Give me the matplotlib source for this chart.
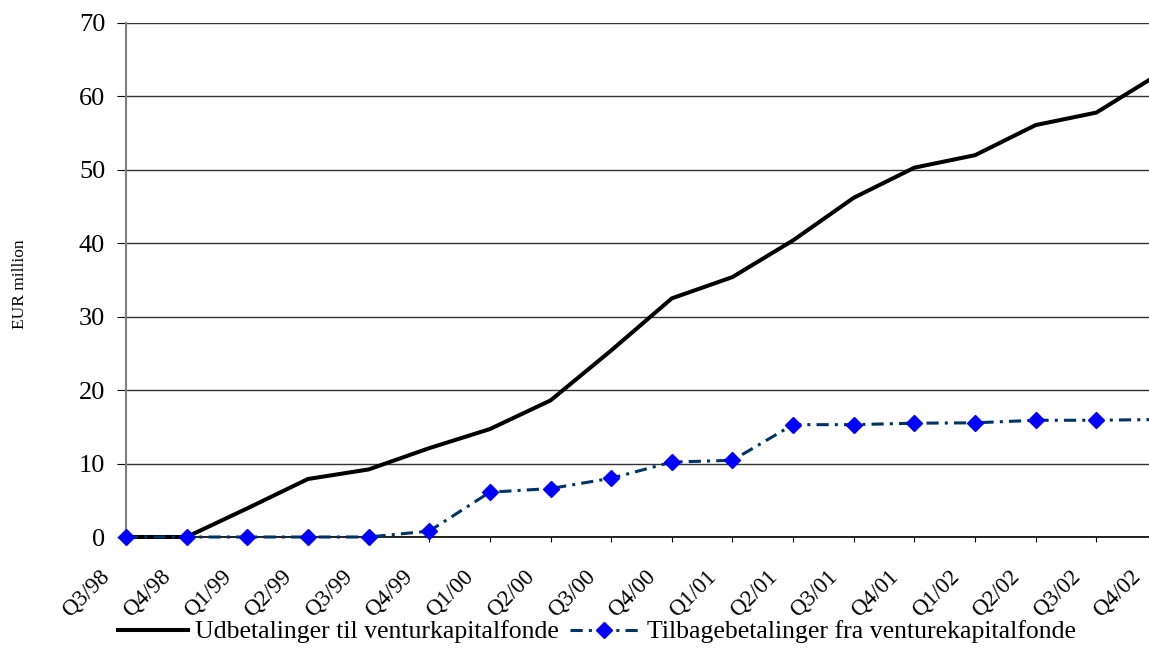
import matplotlib
matplotlib.use("Agg")
import matplotlib.pyplot as plt
from matplotlib.lines import Line2D
from matplotlib.transforms import ScaledTranslation

plt.rcParams['font.family'] = ['Liberation Serif', 'DejaVu Serif']

categories = ['Q3/98', 'Q4/98', 'Q1/99', 'Q2/99', 'Q3/99', 'Q4/99', 'Q1/00', 'Q2/00',
              'Q3/00', 'Q4/00', 'Q1/01', 'Q2/01', 'Q3/01', 'Q4/01', 'Q1/02', 'Q2/02',
              'Q3/02', 'Q4/02']
udbetalinger = [0, 0, 3.9, 7.9, 9.2, 12.1, 14.7, 18.6, 25.4, 32.5, 35.4, 40.4,
                46.2, 50.3, 52.0, 56.1, 57.8, 62.9]
tilbagebetalinger = [0, 0, 0, 0, 0, 0.8, 6.1, 6.6, 8.0, 10.2, 10.45, 15.3,
                     15.3, 15.5, 15.55, 15.9, 15.9, 16.0]
y_ticks = [0, 10, 20, 30, 40, 50, 60, 70]
label_black = 'Udbetalinger til venturkapitalfonde'
label_blue = 'Tilbagebetalinger fra venturekapitalfonde'

W, H = 1149, 671
fig = plt.figure(figsize=(W / 100, H / 100), dpi=100)
left, right, top, bottom = 126, 1157, 23, 537
ax = fig.add_axes([left / W, 1 - bottom / H, (right - left) / W, (bottom - top) / H])

x = list(range(len(categories)))
ax.plot(x, udbetalinger, color='black', lw=2.9, solid_joinstyle='miter', zorder=3,
        clip_on=False)
ax.plot(x, tilbagebetalinger, color='#003366', lw=2.2, dashes=(4, 2, 1, 2),
        marker='D', markersize=8.5, markerfacecolor='#0000FF',
        markeredgecolor='#0000FF', zorder=4, clip_on=False)

ax.set_xlim(0, len(categories) - 1)
ax.set_ylim(0, 70)
ax.set_yticks(y_ticks)
ax.set_xticks(x)
ax.set_xticklabels([])
offset = ScaledTranslation(-27 / 100, -29 / 100, fig.dpi_scale_trans)
for i, cat in zip(x, categories):
    ax.text(i, 0, cat, transform=ax.get_xaxis_transform() + offset,
            rotation=45, rotation_mode='anchor', ha='right', va='top',
            fontsize=16.5, clip_on=False)
ax.tick_params(axis='y', labelsize=19, length=6.5, width=0.8, pad=8.5, color='black')
ax.tick_params(axis='x', length=3.6, width=0.8, color='black')

ax.grid(axis='y', color='#333333', lw=1.0, zorder=1)
ax.set_axisbelow(True)
for s in ['top', 'right']:
    ax.spines[s].set_visible(False)
ax.spines['left'].set_color('#808080')
ax.spines['left'].set_linewidth(1.5)
ax.spines['bottom'].set_color('black')
ax.spines['bottom'].set_linewidth(1.2)
ax.spines['bottom'].set_zorder(2)

fig.text(20 / W, 1 - 284 / H, 'EUR million', rotation=90, ha='center', va='center',
         fontsize=12.5)

handles = [
    Line2D([], [], color='black', lw=2.9),
    Line2D([], [], color='#003366', lw=2.2, dashes=(4, 2, 1, 2), marker='D',
           markersize=8.5, markerfacecolor='#0000FF', markeredgecolor='#0000FF'),
]
fig.legend(handles, [label_black, label_blue], loc='center',
           bbox_to_anchor=(597 / W, 1 - 632 / H), ncol=2, frameon=False,
           fontsize=18.5, handlelength=2.7, handletextpad=0.3, columnspacing=0.4,
           borderpad=0, borderaxespad=0)

fig.savefig('out.png', dpi=100)
